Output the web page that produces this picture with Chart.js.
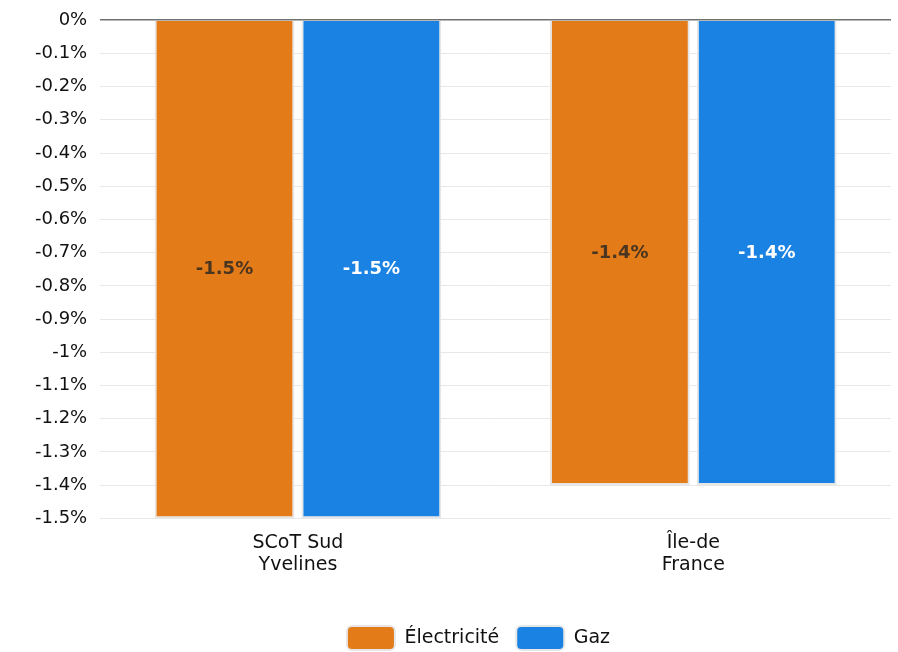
<!DOCTYPE html>
<html>
<head>
<meta charset="utf-8">
<script src="https://cdn.jsdelivr.net/npm/chart.js@4/dist/chart.umd.min.js"></script>
<style>
  html, body { margin: 0; padding: 0; background: #fff; }
  #wrap { width: 898px; height: 652px; }
</style>
</head>
<body>
<div id="wrap"><canvas id="chart"></canvas></div>
<script>
const categories = [["SCoT Sud", "Yvelines"], ["Île-de", "France"]];
const electricite = [-1.5, -1.4];
const gaz = [-1.5, -1.4];

const fmt = v => (Math.round(v * 10) / 10) + "%";

// draws the value in the middle of each bar
const barLabels = {
  id: "barLabels",
  afterDatasetsDraw(chart) {
    const ctx = chart.ctx;
    ctx.save();
    ctx.font = "bold 18px 'DejaVu Sans'";
    ctx.textAlign = "center";
    ctx.textBaseline = "middle";
    chart.data.datasets.forEach((ds, i) => {
      chart.getDatasetMeta(i).data.forEach((bar, j) => {
        ctx.fillStyle = ds.labelColor;
        ctx.fillText(fmt(ds.data[j]), bar.x, (bar.y + bar.base) / 2);
      });
    });
    ctx.restore();
  }
};

// legend sits a bit right of the canvas centre in the original
const legendShift = {
  id: "legendShift",
  afterLayout(chart) {
    chart.legend.left += 22;
    chart.legend.right += 22;
  }
};

new Chart(document.getElementById("chart"), {
  type: "bar",
  data: {
    labels: categories,
    datasets: [
      {
        label: "Électricité",
        data: electricite,
        backgroundColor: "#E37B18",
        borderColor: "#e6e6e6",
        borderWidth: 2,
        labelColor: "#4a3520"
      },
      {
        label: "Gaz",
        data: gaz,
        backgroundColor: "#1A82E2",
        borderColor: "#e6e6e6",
        borderWidth: 2,
        labelColor: "#ffffff"
      }
    ]
  },
  options: {
    responsive: true,
    maintainAspectRatio: false,
    animation: false,
    categoryPercentage: 0.743,
    barPercentage: 0.952,
    layout: { padding: { top: 0, right: 7, left: 22, bottom: -8 } },
    plugins: {
      legend: {
        position: "bottom",
        labels: {
          boxWidth: 48,
          boxHeight: 24,
          useBorderRadius: true,
          borderRadius: 5,
          padding: 17,
          color: "#111",
          font: { family: "DejaVu Sans", size: 19 }
        }
      },
      tooltip: { enabled: false }
    },
    scales: {
      x: {
        grid: { display: false },
        border: { display: false },
        ticks: { color: "#111", font: { family: "DejaVu Sans", size: 19, lineHeight: 1.15 }, padding: 6 },
        afterFit: s => { s.height += 27; }
      },
      y: {
        min: -1.5,
        max: 0,
        ticks: {
          stepSize: 0.1,
          color: "#111",
          padding: 13,
          font: { family: "DejaVu Sans", size: 18, lineHeight: 0.8 },
          callback: v => fmt(v)
        },
        grid: {
          drawTicks: false,
          color: c => c.tick.value === 0 ? "#707070" : "#e8e8e8",
          lineWidth: c => c.tick.value === 0 ? 1.5 : 1
        },
        border: { display: false }
      }
    }
  },
  plugins: [barLabels, legendShift]
});
</script>
</body>
</html>
